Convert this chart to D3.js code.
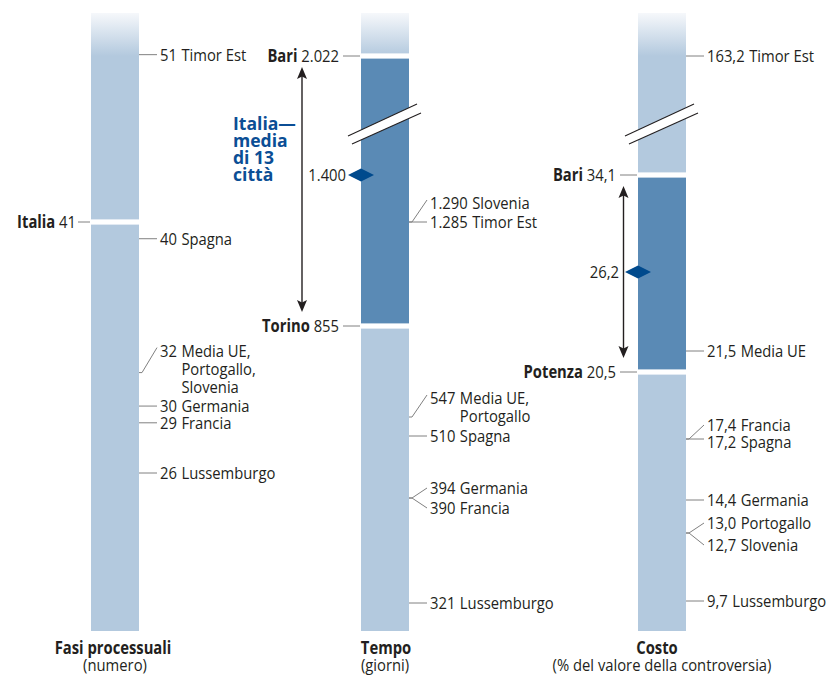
<!DOCTYPE html>
<html><head><meta charset="utf-8">
<script src="https://cdn.jsdelivr.net/npm/d3@7"></script>
<style>
body{margin:0;background:#fff}
svg text{font-family:"Open Sans","Noto Sans",sans-serif;fill:#231f20;font-size:17px}
</style></head><body><svg id="c" width="828" height="675"></svg>
<script>
// ---------- DATA ----------
const panelTitles = ["Fasi processuali", "Tempo", "Costo"];
const panelUnits = ["(numero)", "(giorni)", "(% del valore della controversia)"];

const fasiCountries = ["Timor Est", "Spagna", "Media UE,\nPortogallo,\nSlovenia", "Germania", "Francia", "Lussemburgo"];
const fasiValues = [51, 40, 32, 30, 29, 26];
const fasiCities = ["Italia"];
const fasiCityValues = [41];

const tempoCountries = ["Slovenia", "Timor Est", "Media UE,\nPortogallo", "Spagna", "Germania", "Francia", "Lussemburgo"];
const tempoValues = [1290, 1285, 547, 510, 394, 390, 321];
const tempoCities = ["Bari", "Torino"];
const tempoCityValues = [2022, 855];
const tempoMean = 1400;

const costoCountries = ["Timor Est", "Media UE", "Francia", "Spagna", "Germania", "Portogallo", "Slovenia", "Lussemburgo"];
const costoValues = [163.2, 21.5, 17.4, 17.2, 14.4, 13.0, 12.7, 9.7];
const costoCities = ["Bari", "Potenza"];
const costoCityValues = [34.1, 20.5];
const costoMean = 26.2;

const meanLabel = ["Italia—", "media", "di 13", "città"];

// ---------- LAYOUT / STYLE ----------
const barW = 48, barTop = 13, barBottom = 631, gap = 2.6;
const SX = 0.87; // horizontal condensing of the type
const LIGHT = "#b3c9de", DARK = "#5a8ab5", DIAMOND = "#004a8d", BLUE_TXT = "#0b4e95", INK = "#231f20", LEAD = "#808080";

const xCenter = d3.scaleOrdinal().domain(panelTitles).range([115, 385, 662]);

// the source graphic is not drawn to a single linear scale: piecewise scales reproduce it
const yFasi = d3.scaleLinear().domain([26, 41]).range([473, 222]);
const yTempo = d3.scaleLinear()
  .domain([321, 390, 394, 510, 547, 855, 1285, 1290, 1400, 2022])
  .range([603, 498, 498, 436, 417, 326, 222, 222, 175, 56]);
const yCosto = d3.scaleLinear()
  .domain([9.7, 12.7, 13.0, 14.4, 17.2, 17.4, 20.5, 21.5, 26.2, 34.1, 163.2])
  .range([601, 533, 533, 500, 439, 439, 372, 351, 272, 175, 56]);

const it = d3.formatLocale({decimal: ",", thousands: ".", grouping: [3], currency: ["€", ""]});
const fInt = it.format(",d"), f1 = it.format(".1f");

const panels = [
  {title: panelTitles[0], unit: panelUnits[0], y: yFasi, fmt: fInt,
   names: fasiCountries, vals: fasiValues, shift: [0, 0, -22, 0, 0, 0],
   cities: fasiCities, cityVals: fasiCityValues, leftTick: 13, leftGap: 2, titleDx: -2},
  {title: panelTitles[1], unit: panelUnits[1], y: yTempo, fmt: fInt,
   names: tempoCountries, vals: tempoValues, shift: [-19, 0, -19, 0, -10, 10, 0],
   cities: tempoCities, cityVals: tempoCityValues, leftTick: 18, leftGap: 4,
   mean: tempoMean, arrowDx: -59, meanGap: 15, brk: true, textDx: -69, titleDx: 1},
  {title: panelTitles[2], unit: panelUnits[2], y: yCosto, fmt: f1,
   names: costoCountries, vals: costoValues, shift: [0, 0, -14, 3, 0, -10, 12, 0],
   cities: costoCities, cityVals: costoCityValues, leftTick: 18, leftGap: 4,
   mean: costoMean, arrowDx: -14.5, meanGap: 19, brk: true, titleDx: -5}
];

const svg = d3.select("#c");
const defs = svg.append("defs");
const grad = defs.append("linearGradient").attr("id", "fade")
  .attr("gradientUnits", "userSpaceOnUse").attr("x1", 0).attr("y1", barTop).attr("x2", 0).attr("y2", 56);
grad.append("stop").attr("offset", 0).attr("stop-color", "#f6f8fb");
grad.append("stop").attr("offset", 1).attr("stop-color", LIGHT);

// text helper: condensed text placed at (x,y)
function txt(g, x, y, anchor, sx) {
  return g.append("text").attr("transform", `translate(${x},${y}) scale(${sx || SX},1)`)
    .attr("text-anchor", anchor || "start").attr("dy", "0.35em");
}

panels.forEach((p) => {
  const g = svg.append("g");
  const cx = xCenter(p.title), L = cx - barW / 2, R = cx + barW / 2;
  const y = p.y;

  // bar segments
  let segs;
  if (p.cities.length === 1) {
    const yc = y(p.cityVals[0]);
    segs = [{a: barTop, b: yc - gap, f: "url(#fade)"}, {a: yc + gap, b: barBottom, f: LIGHT}];
  } else {
    const y0 = y(p.cityVals[0]), y1 = y(p.cityVals[1]);
    segs = [{a: barTop, b: y0 - gap, f: "url(#fade)"}, {a: y0 + gap, b: y1 - gap, f: DARK}, {a: y1 + gap, b: barBottom, f: LIGHT}];
  }
  g.selectAll("rect.seg").data(segs).join("rect").attr("class", "seg")
    .attr("x", L).attr("width", barW).attr("y", d => d.a).attr("height", d => d.b - d.a).attr("fill", d => d.f);

  // break marks
  if (p.brk) {
    const A0 = [L - 13, 136], A1 = [L + 56, 104], B0 = [L - 9, 144], B1 = [L + 60, 113];
    g.append("polygon").attr("points", [A0, A1, B1, B0].map(d => d.join(",")).join(" ")).attr("fill", "#fff");
    [[A0, A1], [B0, B1]].forEach(s => g.append("line")
      .attr("x1", s[0][0]).attr("y1", s[0][1]).attr("x2", s[1][0]).attr("y2", s[1][1])
      .attr("stroke", INK).attr("stroke-width", 1.1));
  }

  // country labels (right)
  p.names.forEach((nm, i) => {
    const ty = y(p.vals[i]), sh = p.shift[i];
    const ly = ty + sh;
    if (Math.abs(sh) > 3) {
      g.append("polyline").attr("points", `${R},${ty} ${R + 3},${ty} ${R + 18},${ly - (sh < -15 ? 3 : 0)}`)
        .attr("fill", "none").attr("stroke", LEAD).attr("stroke-width", 1);
    } else {
      g.append("line").attr("x1", R).attr("x2", R + 18).attr("y1", ty).attr("y2", ty)
        .attr("stroke", LEAD).attr("stroke-width", 1);
    }
    const lines = nm.split("\n");
    const vt = txt(g, R + 21, ly).text(p.fmt(p.vals[i]));
    const w = vt.node().getComputedTextLength() * SX;
    lines.forEach((ln, k) => {
      txt(g, R + 21 + w + 4.5, ly + k * 18).text(ln);
    });
  });

  // city labels (left)
  p.cities.forEach((c, i) => {
    const cy = y(p.cityVals[i]);
    g.append("line").attr("x1", L - p.leftTick).attr("x2", L - 1).attr("y1", cy).attr("y2", cy)
      .attr("stroke", LEAD).attr("stroke-width", 1);
    const t = txt(g, L - p.leftTick - p.leftGap, cy, "end");
    t.append("tspan").attr("font-weight", "bold").text(c);
    t.append("tspan").text(" " + p.fmt(p.cityVals[i]));
  });

  // mean marker + range arrow
  if (p.mean !== undefined) {
    const my = y(p.mean);
    g.append("path").attr("d", `M${L - 13},${my} L${L},${my - 6.5} L${L + 13},${my} L${L},${my + 6.5} Z`).attr("fill", DIAMOND);
    txt(g, L - p.meanGap, my, "end").text(p.fmt(p.mean));

    const ax = L + p.arrowDx;
    const top = y(p.cityVals[0]) + 11, bot = y(p.cityVals[1]) - 14;
    g.append("line").attr("x1", ax).attr("x2", ax).attr("y1", top + 6).attr("y2", bot - 6).attr("stroke", INK).attr("stroke-width", 1.4);
    g.append("path").attr("d", `M${ax},${top} L${ax - 5},${top + 12} L${ax},${top + 9.5} L${ax + 5},${top + 12} Z`).attr("fill", INK);
    g.append("path").attr("d", `M${ax},${bot} L${ax - 5},${bot - 12} L${ax},${bot - 9.5} L${ax + 5},${bot - 12} Z`).attr("fill", INK);

    if (p.textDx !== undefined) {
      meanLabel.forEach((ln, k) => {
        txt(g, ax + p.textDx, 124 + k * 17, "start", 0.95).attr("font-weight", "bold")
          .style("fill", BLUE_TXT).style("font-size", "18.5px").text(ln);
      });
    }
  }

  // titles
  txt(g, cx + p.titleDx, 648, "middle").attr("font-weight", "bold").text(p.title);
  txt(g, cx, 665, "middle").style("font-size", "17px").text(p.unit);
});
</script></body></html>
